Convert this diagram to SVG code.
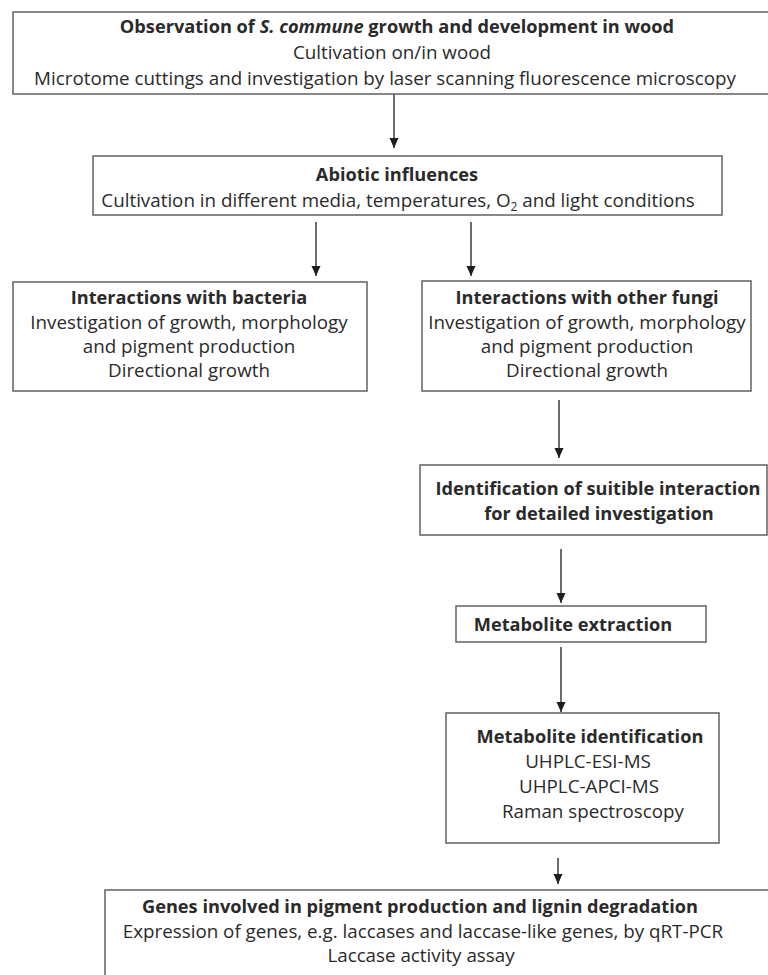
<svg xmlns="http://www.w3.org/2000/svg" width="768" height="975" viewBox="0 0 768 975">
<style>
.box{fill:#fff;stroke:#6a6a6a;stroke-width:1.6}
text{font-family:"Open Sans","Liberation Sans",sans-serif;font-size:18.8px;fill:#2a2a2a;text-anchor:middle}
.b{font-weight:bold;font-size:18.2px}
.c{stroke:#1e1e1e;stroke-width:1.3;fill:none}
</style>
<defs>
<marker id="a2" markerUnits="userSpaceOnUse" markerWidth="12" markerHeight="12" viewBox="0 0 12 12" refX="11" refY="6" orient="auto">
<path d="M1,1.5 L11,6 L1,10.5 Z" fill="#1e1e1e"/>
</marker>
</defs>
<rect width="768" height="975" fill="#fff"/>
<g id="connectors">
<line class="c" x1="394" y1="94" x2="394" y2="148" marker-end="url(#a2)"/>
<line class="c" x1="316" y1="222" x2="316" y2="276" marker-end="url(#a2)"/>
<line class="c" x1="471" y1="222" x2="471" y2="276" marker-end="url(#a2)"/>
<line class="c" x1="559" y1="400" x2="559" y2="458" marker-end="url(#a2)"/>
<line class="c" x1="561" y1="549" x2="561" y2="603" marker-end="url(#a2)"/>
<line class="c" x1="561" y1="647" x2="561" y2="712" marker-end="url(#a2)"/>
<line class="c" x1="558" y1="858" x2="558" y2="884" marker-end="url(#a2)"/>
</g>
<g id="n-observation">
<rect class="box" x="13" y="12" width="800" height="82"/>
<text class="b" x="397" y="33">Observation of <tspan font-style="italic">S. commune</tspan> growth and development in wood</text>
<text x="392" y="59">Cultivation on/in wood</text>
<text x="385" y="85">Microtome cuttings and investigation by laser scanning fluorescence microscopy</text>
</g>
<g id="n-abiotic">
<rect class="box" x="93" y="156" width="629" height="59"/>
<text class="b" x="397" y="181">Abiotic influences</text>
<text x="398" y="207">Cultivation in different media, temperatures, O<tspan font-size="12" dy="4">2</tspan><tspan dy="-4"> and light conditions</tspan></text>
</g>
<g id="n-bacteria">
<rect class="box" x="13" y="282" width="354" height="109"/>
<text class="b" x="189" y="304">Interactions with bacteria</text>
<text x="189" y="329">Investigation of growth, morphology</text>
<text x="189" y="353">and pigment production</text>
<text x="189" y="377">Directional growth</text>
</g>
<g id="n-fungi">
<rect class="box" x="422" y="281" width="329" height="110"/>
<text class="b" x="587" y="304">Interactions with other fungi</text>
<text x="587" y="329">Investigation of growth, morphology</text>
<text x="587" y="353">and pigment production</text>
<text x="587" y="377">Directional growth</text>
</g>
<g id="n-identification">
<rect class="box" x="420" y="465" width="347" height="70"/>
<text class="b" x="598" y="495">Identification of suitible interaction</text>
<text class="b" x="599" y="520">for detailed investigation</text>
</g>
<g id="n-extraction">
<rect class="box" x="456" y="606" width="250" height="36"/>
<text class="b" x="573" y="631">Metabolite extraction</text>
</g>
<g id="n-metid">
<rect class="box" x="446" y="713" width="273" height="130"/>
<text class="b" x="590" y="743">Metabolite identification</text>
<text x="588" y="768">UHPLC-ESI-MS</text>
<text x="589" y="793">UHPLC-APCI-MS</text>
<text x="593" y="818">Raman spectroscopy</text>
</g>
<g id="n-genes">
<rect class="box" x="105" y="890" width="700" height="100"/>
<text class="b" x="420" y="913">Genes involved in pigment production and lignin degradation</text>
<text x="423" y="938">Expression of genes, e.g. laccases and laccase-like genes, by qRT-PCR</text>
<text x="421" y="962">Laccase activity assay</text>
</g>
</svg>
